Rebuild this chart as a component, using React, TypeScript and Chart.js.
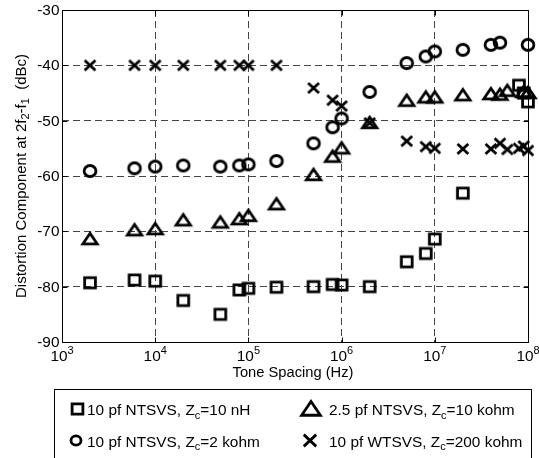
import React, { useEffect, useRef } from 'react';
import { Chart, registerables } from 'chart.js';

Chart.register(...registerables);

// ---------------- data ----------------
const squareFreq = [2e3, 6e3, 1e4, 2e4, 5e4, 8e4, 1e5, 2e5, 5e5, 8e5, 1e6, 2e6, 5e6, 8e6, 1e7, 2e7, 8e7, 9e7, 1e8];
const squareVals = [-79.3, -78.8, -79.0, -82.5, -85.0, -80.6, -80.3, -80.1, -80.0, -79.6, -79.7, -80.0, -75.5, -74.0, -71.4, -63.1, -43.6, -45.0, -46.6];

const triangleFreq = [2e3, 6e3, 1e4, 2e4, 5e4, 8e4, 1e5, 2e5, 5e5, 8e5, 1e6, 2e6, 5e6, 8e6, 1e7, 2e7, 4e7, 5e7, 6e7, 9e7, 1e8];
const triangleVals = [-71.4, -69.8, -69.6, -68.0, -68.4, -67.8, -67.2, -65.1, -59.8, -56.5, -55.0, -50.4, -46.4, -45.8, -45.8, -45.4, -45.2, -45.3, -44.6, -44.8, -45.0];

const circleFreq = [2e3, 6e3, 1e4, 2e4, 5e4, 8e4, 1e5, 2e5, 5e5, 8e5, 1e6, 2e6, 5e6, 8e6, 1e7, 2e7, 4e7, 5e7, 1e8];
const circleVals = [-59.1, -58.6, -58.3, -58.1, -58.3, -58.1, -57.9, -57.3, -54.1, -51.2, -49.6, -44.8, -39.6, -38.4, -37.5, -37.2, -36.3, -35.9, -36.3];

const crossFreq = [2e3, 6e3, 1e4, 2e4, 5e4, 8e4, 1e5, 2e5, 5e5, 8e5, 1e6, 2e6, 5e6, 8e6, 1e7, 2e7, 4e7, 5e7, 6e7, 8e7, 9e7, 1e8];
const crossVals = [-40, -40, -40, -40, -40, -40, -40, -40, -44.1, -46.3, -47.35, -50.4, -53.7, -54.7, -55.0, -55.1, -55.1, -54.1, -55.2, -55.0, -54.6, -55.4];

type Part = { t: string; s?: 'sub' | 'sup' };

const squareLabel: Part[] = [{ t: '10 pf NTSVS, Z' }, { t: 'c', s: 'sub' }, { t: '=10 nH' }];
const triangleLabel: Part[] = [{ t: '2.5 pf NTSVS, Z' }, { t: 'c', s: 'sub' }, { t: '=10 kohm' }];
const circleLabel: Part[] = [{ t: '10 pf NTSVS, Z' }, { t: 'c', s: 'sub' }, { t: '=2 kohm' }];
const crossLabel: Part[] = [{ t: '10 pf WTSVS, Z' }, { t: 'c', s: 'sub' }, { t: '=200 kohm' }];

const xTickExponents = [3, 4, 5, 6, 7, 8];
const yTickValues = [-30, -40, -50, -60, -70, -80, -90];
const xTitle: Part[] = [{ t: 'Tone Spacing (Hz)' }];
const yTitle: Part[] = [
  { t: 'Distortion Component at 2f' },
  { t: '2', s: 'sub' },
  { t: '-f' },
  { t: '1', s: 'sub' },
  { t: '  (dBc)' },
];

// ---------------- styling helpers ----------------
const FAMILY = '"Liberation Sans", Arial, Helvetica, sans-serif';
const FS = 14;
const SX = 1.1;
const LW = 2.8;

function drawShape(ctx: CanvasRenderingContext2D, kind: string, cx: number, cy: number, k: number) {
  ctx.save();
  ctx.strokeStyle = '#000';
  ctx.lineWidth = LW;
  ctx.lineJoin = 'miter';
  ctx.miterLimit = 3;
  ctx.setLineDash([]);
  ctx.beginPath();
  if (kind === 'square') {
    ctx.rect(cx - 5.4 * k, cy - 5.1 * k, 10.8 * k, 10.2 * k);
  } else if (kind === 'circle') {
    ctx.ellipse(cx, cy, 5.9 * k, 5.5 * k, 0, 0, Math.PI * 2);
  } else if (kind === 'triangle') {
    ctx.moveTo(cx - 7.2 * k, cy + 4.8 * k);
    ctx.lineTo(cx + 7.2 * k, cy + 4.8 * k);
    ctx.lineTo(cx, cy - 5.8 * k);
    ctx.closePath();
  } else {
    ctx.moveTo(cx - 5.4 * k, cy - 5.1 * k);
    ctx.lineTo(cx + 5.4 * k, cy + 5.1 * k);
    ctx.moveTo(cx + 5.4 * k, cy - 5.1 * k);
    ctx.lineTo(cx - 5.4 * k, cy + 5.1 * k);
  }
  ctx.stroke();
  ctx.restore();
}

function makeMarker(kind: string) {
  const c = document.createElement('canvas');
  c.width = 22;
  c.height = 20;
  const ctx = c.getContext('2d')!;
  drawShape(ctx, kind, 11, 10, 1);
  return c;
}

function partFont(p: Part, size: number) {
  return `${p.s ? Math.round(size * 0.7) : size}px ${FAMILY}`;
}

function drawRich(
  ctx: CanvasRenderingContext2D,
  parts: Part[],
  x: number,
  y: number,
  align: 'left' | 'center' | 'right',
  size: number,
  sx: number
) {
  const widths: number[] = [];
  let total = 0;
  for (const p of parts) {
    ctx.font = partFont(p, size);
    const w = ctx.measureText(p.t).width * sx;
    widths.push(w);
    total += w;
  }
  let cx = align === 'left' ? x : align === 'center' ? x - total / 2 : x - total;
  parts.forEach((p, i) => {
    ctx.font = partFont(p, size);
    const dy = p.s === 'sub' ? size * 0.26 : p.s === 'sup' ? -size * 0.48 : 0;
    ctx.save();
    ctx.translate(cx, y + dy);
    ctx.scale(sx, 1);
    ctx.textAlign = 'left';
    ctx.textBaseline = 'alphabetic';
    ctx.fillStyle = '#000';
    ctx.fillText(p.t, 0, 0);
    ctx.restore();
    cx += widths[i];
  });
}

const decorPlugin = {
  id: 'decor',
  afterDraw(chart: any) {
    const ctx: CanvasRenderingContext2D = chart.ctx;
    const { left, right, top, bottom } = chart.chartArea;
    const xs = chart.scales.x;
    const ys = chart.scales.y;
    const L = Math.round(left) + 0.5;
    const R = Math.round(right) + 0.5;
    const T = Math.round(top) + 0.5;
    const B = Math.round(bottom) + 0.5;

    ctx.save();
    ctx.strokeStyle = '#000';
    ctx.lineWidth = 1;
    ctx.setLineDash([]);
    ctx.strokeRect(L, T, R - L, B - T);

    // inner tick marks
    ctx.beginPath();
    yTickValues.forEach((v) => {
      const py = Math.round(ys.getPixelForValue(v)) + 0.5;
      ctx.moveTo(L, py);
      ctx.lineTo(L + 5, py);
      ctx.moveTo(R, py);
      ctx.lineTo(R - 5, py);
    });
    xTickExponents.forEach((e) => {
      const px = Math.round(xs.getPixelForValue(Math.pow(10, e))) + 0.5;
      ctx.moveTo(px, B);
      ctx.lineTo(px, B - 5);
      ctx.moveTo(px, T);
      ctx.lineTo(px, T + 5);
    });
    ctx.stroke();

    // y tick labels
    yTickValues.forEach((v) => {
      const py = ys.getPixelForValue(v);
      drawRich(ctx, [{ t: String(v) }], left - 2.5, py + 5, 'right', FS, SX);
    });
    // x tick labels
    xTickExponents.forEach((e) => {
      const px = xs.getPixelForValue(Math.pow(10, e));
      drawRich(ctx, [{ t: '10' }, { t: String(e), s: 'sup' }], px, 360.5, 'center', FS, SX);
    });
    // x title
    drawRich(ctx, xTitle, (left + right) / 2 - 2, 377, 'center', FS, 1.05);
    // y title
    ctx.save();
    ctx.translate(25.5, (top + bottom) / 2);
    ctx.rotate(-Math.PI / 2);
    drawRich(ctx, yTitle, 0, 0, 'center', 15, 1);
    ctx.restore();

    // legend box
    ctx.strokeStyle = '#000';
    ctx.lineWidth = 1;
    ctx.strokeRect(54.5, 389.5, 477, 100);
    const items = [
      { kind: 'square', parts: squareLabel, mx: 77.5, tx: 87, row: 0 },
      { kind: 'triangle', parts: triangleLabel, mx: 311, tx: 329, row: 0 },
      { kind: 'circle', parts: circleLabel, mx: 76, tx: 87, row: 1 },
      { kind: 'cross', parts: crossLabel, mx: 310, tx: 329, row: 1 },
    ];
    items.forEach((it) => {
      const base = it.row === 0 ? 415 : 446.5;
      const k = it.kind === 'triangle' ? 1.3 : it.kind === 'circle' ? 0.85 : it.kind === 'cross' ? 1.15 : 1;
      drawShape(ctx, it.kind, it.mx, base - 6, k);
      drawRich(ctx, it.parts, it.tx, base, 'left', FS, SX);
    });
    ctx.restore();
  },
};

function toPoints(fs: number[], vs: number[]) {
  return fs.map((f, i) => ({ x: f, y: vs[i] }));
}

export default function App() {
  const ref = useRef<HTMLCanvasElement | null>(null);

  useEffect(() => {
    document.body.style.margin = '0';
    const canvas = ref.current!;
    const markers = {
      square: makeMarker('square'),
      triangle: makeMarker('triangle'),
      circle: makeMarker('circle'),
      cross: makeMarker('cross'),
    };
    const ds = (data: any[], style: HTMLCanvasElement) => ({
      data,
      pointStyle: style,
      pointRadius: 8,
      pointHoverRadius: 8,
      borderColor: '#000',
      backgroundColor: 'transparent',
      showLine: false,
      clip: false as any,
    });
    const chart = new Chart(canvas, {
      type: 'scatter',
      data: {
        datasets: [
          ds(toPoints(squareFreq, squareVals), markers.square),
          ds(toPoints(triangleFreq, triangleVals), markers.triangle),
          ds(toPoints(circleFreq, circleVals), markers.circle),
          ds(toPoints(crossFreq, crossVals), markers.cross),
        ],
      },
      options: {
        animation: false,
        responsive: false,
        devicePixelRatio: 1,
        events: [],
        layout: { padding: { left: 62, right: 11, top: 10, bottom: 116 } },
        plugins: { legend: { display: false }, tooltip: { enabled: false } },
        scales: {
          x: {
            type: 'logarithmic',
            min: 1e3,
            max: 1e8,
            afterBuildTicks: (s: any) => {
              s.ticks = xTickExponents.map((e) => ({ value: Math.pow(10, e) }));
            },
            afterFit: (s: any) => {
              s.height = 0;
            },
            ticks: { display: false },
            grid: { color: '#444', lineWidth: 1, drawTicks: false },
            border: { display: false, dash: [7, 4] },
          },
          y: {
            type: 'linear',
            min: -90,
            max: -30,
            afterBuildTicks: (s: any) => {
              s.ticks = yTickValues.map((v) => ({ value: v }));
            },
            afterFit: (s: any) => {
              s.width = 0;
            },
            ticks: { display: false },
            grid: { color: '#444', lineWidth: 1, drawTicks: false },
            border: { display: false, dash: [7, 4] },
          },
        },
      },
      plugins: [decorPlugin],
    });
    return () => chart.destroy();
  }, []);

  return (
    <div style={{ width: 539, height: 458, background: '#fff' }}>
      <canvas ref={ref} width={539} height={458} style={{ display: 'block' }} />
    </div>
  );
}
